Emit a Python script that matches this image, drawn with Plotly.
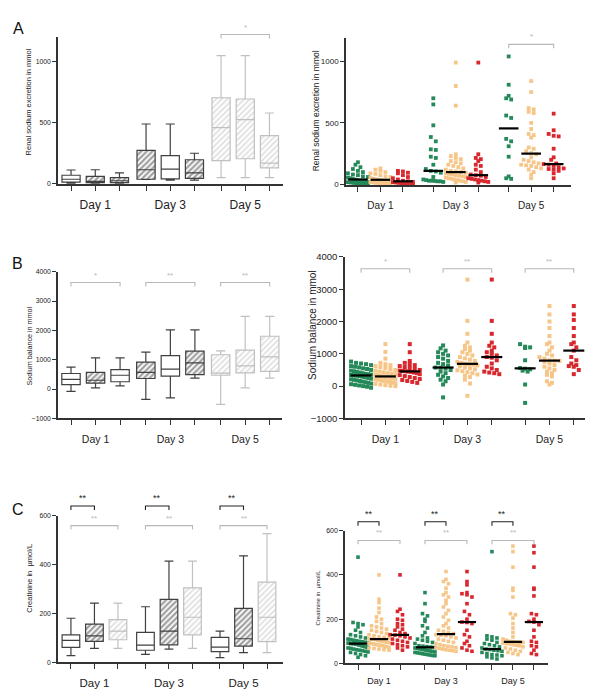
import numpy as np
import plotly.graph_objects as go

days = ["Day 1", "Day 3", "Day 5"]

# ---- Panel A: renal sodium excretion (mmol) ----
# box summaries, order: Day1 g1,g2,g3, Day3 g1,g2,g3, Day5 g1,g2,g3
a_lo = [0, 0, 0, 30, 25, 25, 45, 45, 45]
a_q1 = [8, 5, 5, 32, 35, 40, 185, 200, 125]
a_med = [32, 15, 20, 110, 115, 85, 455, 520, 165]
a_q3 = [65, 55, 45, 268, 225, 192, 700, 690, 390]
a_hi = [108, 110, 85, 485, 485, 245, 1045, 1045, 575]

a_d1_green = [180, 160, 140, 125, 110, 100, 90, 80, 75, 65, 60, 55, 50, 45, 40, 35, 30, 28,
              25, 22, 20, 18, 15, 12, 10, 8, 5, 3, 0]
a_d1_orange = [130, 120, 110, 100, 90, 85, 75, 65, 60, 55, 45, 40, 35, 30, 25, 20, 18, 15,
               12, 10, 8, 5, 3, 0]
a_d1_red = [110, 105, 95, 90, 75, 60, 50, 40, 30, 25, 20, 18, 15, 12, 10, 8, 5, 2, 0]
a_d3_green = [700, 650, 480, 385, 350, 285, 280, 225, 215, 160, 125, 110, 105, 95, 60, 40,
              35, 30, 30, 28, 25, 25, 20]
a_d3_orange = [990, 800, 640, 245, 230, 215, 205, 190, 180, 170, 160, 150, 140, 130, 120, 110,
               105, 100, 95, 90, 85, 80, 75, 70, 65, 60, 55, 50, 45, 40, 35, 30, 25, 20, 15]
a_d3_red = [990, 245, 215, 205, 190, 160, 150, 120, 100, 80, 75, 70, 60, 50, 45, 40, 35, 30, 25, 20, 15]
a_d5_green = [1040, 810, 720, 700, 690, 560, 540, 370, 350, 310, 225, 65, 50, 45]
a_d5_orange = [840, 750, 620, 610, 590, 580, 500, 450, 410, 400, 380, 300, 290, 270, 255, 245,
               220, 200, 190, 180, 170, 160, 155, 150, 140, 130, 120, 100, 80, 50]
a_d5_red = [575, 440, 410, 395, 390, 290, 220, 200, 170, 165, 160, 150, 140, 130, 125, 120, 110, 90, 50]

# ---- Panel B: sodium balance (mmol) ----
b_lo = [-80, 40, 110, -350, -300, 370, -520, 40, 370]
b_q1 = [150, 200, 250, 360, 440, 490, 470, 550, 600]
b_med = [330, 300, 470, 570, 680, 890, 540, 790, 1100]
b_q3 = [530, 570, 660, 920, 1140, 1290, 1170, 1330, 1800]
b_hi = [750, 1060, 1060, 1260, 2020, 2020, 1300, 2480, 2480]

b_d1_green = [760, 720, 700, 680, 650, 620, 600, 580, 550, 530, 500, 480, 460, 440, 420, 400,
              380, 370, 355, 345, 335, 330, 320, 310, 295, 280, 265, 250, 230, 210, 195, 180,
              160, 140, 120, 100, 80, 60, 40, 20, 0, -20, -50]
b_d1_orange = [1300, 1060, 850, 720, 680, 650, 620, 590, 560, 530, 500, 480, 450, 430, 410, 390,
               370, 350, 330, 315, 300, 295, 290, 280, 270, 255, 240, 225, 210, 195, 180, 165,
               150, 130, 110, 90, 70, 50, 30, 10, 0]
b_d1_red = [1300, 1050, 780, 720, 680, 650, 620, 590, 560, 530, 500, 480, 470, 460, 450, 440,
            420, 400, 370, 340, 310, 280, 250, 220, 190, 160, 130, 100]
b_d3_green = [1260, 1170, 1100, 1050, 1000, 950, 900, 850, 780, 720, 680, 640, 575, 570, 540,
              500, 450, 400, 350, 300, 250, 200, 150, 50, -350]
b_d3_orange = [3300, 2020, 1620, 1350, 1250, 1200, 1150, 1100, 1050, 1000, 950, 900, 860, 820,
               780, 750, 720, 690, 670, 660, 640, 610, 580, 550, 520, 490, 460, 430, 400, 360,
               320, 280, 200, 80, -300]
b_d3_red = [3300, 2020, 1620, 1350, 1250, 1200, 1100, 1050, 1000, 950, 900, 880, 800, 700, 600,
            550, 500, 450, 420, 400, 370]
b_d5_green = [1300, 1220, 1200, 1180, 800, 560, 540, 520, 480, 450, 50, -520]
b_d5_orange = [2480, 2220, 2000, 1800, 1550, 1350, 1300, 1200, 1100, 1000, 950, 900, 850, 800,
               790, 780, 750, 700, 650, 600, 550, 500, 450, 400, 350, 300, 150, 100, 50]
b_d5_red = [2480, 2220, 2050, 1800, 1550, 1350, 1300, 1200, 1100, 900, 800, 700, 650, 620, 600, 500, 370]

# ---- Panel C: creatinine (umol/L) ----
c_lo = [28, 58, 58, 33, 55, 58, 20, 40, 40]
c_q1 = [62, 86, 93, 50, 72, 113, 44, 67, 85]
c_med = [90, 109, 128, 71, 128, 185, 63, 97, 185]
c_q3 = [113, 157, 175, 123, 258, 305, 103, 221, 329]
c_hi = [181, 243, 243, 228, 415, 415, 128, 436, 527]

c_d1_green = [480, 185, 180, 175, 165, 150, 140, 130, 125, 120, 115, 110, 108, 105, 102, 100,
              98, 96, 94, 92, 91, 90, 90, 89, 88, 86, 84, 82, 80, 78, 76, 74, 72, 70, 68, 65,
              62, 60, 58, 55, 52, 50, 45, 40, 35, 28]
c_d1_orange = [400, 290, 275, 250, 230, 210, 200, 190, 180, 170, 165, 160, 155, 150, 145, 140,
               135, 130, 125, 120, 118, 115, 112, 110, 110, 108, 105, 102, 100, 98, 96, 94, 92,
               90, 88, 86, 84, 82, 80, 78, 75, 72, 70, 68, 65, 62, 60]
c_d1_red = [400, 245, 235, 220, 200, 195, 180, 175, 165, 155, 150, 140, 135, 130, 128, 125, 120,
            115, 110, 105, 100, 95, 90, 85, 80, 75, 70, 60]
c_d3_green = [320, 270, 225, 215, 200, 190, 170, 160, 140, 125, 115, 110, 105, 100, 95, 90, 80,
              78, 76, 74, 72, 70, 68, 66, 64, 62, 60, 58, 56, 54, 52, 50, 48, 46, 44, 42, 40,
              38, 36, 35]
c_d3_orange = [415, 380, 370, 360, 340, 320, 310, 300, 285, 270, 255, 240, 225, 210, 195, 180,
               170, 160, 150, 145, 140, 135, 130, 128, 125, 120, 115, 110, 105, 100, 95, 90, 85,
               80, 78, 75, 72, 70, 68, 65, 62, 60, 58, 55]
c_d3_red = [415, 370, 355, 320, 315, 310, 300, 270, 235, 220, 200, 187, 185, 180, 150, 130, 120,
            100, 90, 80, 70, 60, 55]
c_d5_green = [505, 125, 120, 115, 110, 105, 95, 90, 85, 80, 75, 70, 65, 63, 60, 58, 55, 50, 45,
              40, 38, 35, 30, 25, 20]
c_d5_orange = [530, 505, 435, 340, 330, 300, 225, 220, 205, 180, 160, 140, 120, 110, 105, 100,
               98, 97, 96, 95, 92, 90, 88, 85, 82, 80, 75, 70, 65, 60, 55, 50, 45, 40]
c_d5_red = [530, 500, 435, 340, 335, 305, 225, 220, 200, 190, 187, 175, 150, 120, 100, 95, 80,
            75, 60, 45, 40]

W, H = 606, 697
FONT = "Liberation Sans, Arial, sans-serif"
AX = "#333333"
GREEN, ORANGE, RED = "#25895a", "#f6c688", "#d8272d"
DARK, LIGHT, BR_GREY = "#404040", "#c0c0c0", "#b8b8b8"

# layout of the six panels (pixel boxes)
specs = {
    1: dict(xpx=(58, 283), ypx=(31, 181), yr=(-8, 1202), gap=3.1, xr=(-0.54, 8.76),
            yt=[0, 500, 1000], tfs=6.8, dfs=12, so=4),
    2: dict(xpx=(346, 571), ypx=(33, 182), yr=(-6, 1186), gap=3.35, xr=(-0.53, 9.47),
            yt=[0, 500, 1000], tfs=8, dfs=10, so=5),
    3: dict(xpx=(58, 282), ypx=(270, 419), yr=(-1000, 4000), gap=3.05, xr=(-0.53, 8.6),
            yt=[-1000, 0, 1000, 2000, 3000, 4000], tfs=6.8, dfs=10.5, so=5),
    4: dict(xpx=(345, 585), ypx=(255, 419), yr=(-1000, 4000), gap=3.37, xr=(-0.66, 9.2),
            yt=[-1000, 0, 1000, 2000, 3000, 4000], tfs=9.5, dfs=10.5, so=5),
    5: dict(xpx=(58, 283), ypx=(518, 667), yr=(0, 600), gap=3.17, xr=(-0.55, 9.02),
            yt=[0, 200, 400, 600], tfs=6.8, dfs=11.5, so=4),
    6: dict(xpx=(345, 548), ypx=(533, 668), yr=(0, 600), gap=3.19, xr=(-0.62, 9.05),
            yt=[0, 200, 400, 600], tfs=7, dfs=9, so=3),
}


def positions(n):
    g = specs[n]["gap"]
    return [d * g + i for d in range(3) for i in range(3)]


def px_per_unit(n):
    s = specs[n]
    fx = (s["xpx"][1] - s["xpx"][0]) / (s["xr"][1] - s["xr"][0])
    fy = (s["ypx"][1] - s["ypx"][0]) / (s["yr"][1] - s["yr"][0])
    return fx, fy


def swarm(vals, center, n, row_px=4.6, step_px=5.0, half_px=10.0):
    # simple bin-and-spread beeswarm
    fx, fy = px_per_unit(n)
    v = np.asarray(vals, float)
    bins = np.round(v / (row_px / fy)).astype(int)
    xs = np.empty(len(v))
    for b in np.unique(bins):
        idx = np.where(bins == b)[0]
        k = len(idx)
        step = step_px if k <= 1 else min(step_px, 2 * half_px / (k - 1))
        xs[idx] = center + (np.arange(k) - (k - 1) / 2) * step / fx
    return xs


fig = go.Figure()


def ax_ids(n):
    return ("x" if n == 1 else f"x{n}"), ("y" if n == 1 else f"y{n}")


def box_panel(n, lo, q1, med, q3, hi, styles):
    xa, ya = ax_ids(n)
    pos = positions(n)
    for i in range(9):
        st = styles[i]
        col = LIGHT if st == "light" else DARK
        if st != "plain":
            fig.add_trace(go.Bar(
                x=[pos[i]], y=[q3[i] - q1[i]], base=[q1[i]], width=0.75,
                marker=dict(color="white", line=dict(width=0),
                            pattern=dict(shape="/", fgcolor=col, bgcolor="white",
                                         size=4, solidity=0.55 if st == "dark" else 0.45)),
                xaxis=xa, yaxis=ya, showlegend=False, hoverinfo="skip"))
        fig.add_trace(go.Box(
            x=[pos[i]], q1=[q1[i]], median=[med[i]], q3=[q3[i]],
            lowerfence=[lo[i]], upperfence=[hi[i]], width=0.75, whiskerwidth=0.5,
            line=dict(color=col, width=1.2), fillcolor="rgba(0,0,0,0)",
            boxpoints=False, xaxis=xa, yaxis=ya, showlegend=False))


def dot_panel(n, groups, msize=3.8, mline=14):
    xa, ya = ax_ids(n)
    pos = positions(n)
    cols = [GREEN, ORANGE, RED] * 3
    for i, vals in enumerate(groups):
        fig.add_trace(go.Scatter(
            x=swarm(vals, pos[i], n), y=vals, mode="markers",
            marker=dict(symbol="square", size=msize, color=cols[i], line=dict(width=0)),
            cliponaxis=False, xaxis=xa, yaxis=ya, showlegend=False))
    fig.add_trace(go.Scatter(
        x=pos, y=[float(np.median(g)) for g in groups], mode="markers",
        marker=dict(symbol="line-ew", size=mline, line=dict(color="black", width=2.2)),
        cliponaxis=False, xaxis=xa, yaxis=ya, showlegend=False))


box_panel(1, a_lo, a_q1, a_med, a_q3, a_hi,
          ["plain", "dark", "dark", "dark", "plain", "dark", "light", "light", "light"])
dot_panel(2, [a_d1_green, a_d1_orange, a_d1_red, a_d3_green, a_d3_orange, a_d3_red,
              a_d5_green, a_d5_orange, a_d5_red])
box_panel(3, b_lo, b_q1, b_med, b_q3, b_hi,
          ["plain", "dark", "plain", "dark", "plain", "dark", "light", "light", "light"])
dot_panel(4, [b_d1_green, b_d1_orange, b_d1_red, b_d3_green, b_d3_orange, b_d3_red,
              b_d5_green, b_d5_orange, b_d5_red], msize=4, mline=15)
box_panel(5, c_lo, c_q1, c_med, c_q3, c_hi, ["plain", "dark", "light"] * 3)
dot_panel(6, [c_d1_green, c_d1_orange, c_d1_red, c_d3_green, c_d3_orange, c_d3_red,
              c_d5_green, c_d5_orange, c_d5_red], msize=3.6, mline=13)

layout_axes = {}
for n, s in specs.items():
    xk = "xaxis" if n == 1 else f"xaxis{n}"
    yk = "yaxis" if n == 1 else f"yaxis{n}"
    xa, ya = ax_ids(n)
    layout_axes[xk] = dict(
        domain=[s["xpx"][0] / W, s["xpx"][1] / W], range=list(s["xr"]), anchor=ya,
        tickvals=positions(n), ticktext=["", days[0], "", "", days[1], "", "", days[2], ""],
        ticks="outside", ticklen=5, tickwidth=1.2, tickcolor=AX, showline=True,
        linecolor=AX, linewidth=1.5, showgrid=False, zeroline=False,
        tickfont=dict(size=s["dfs"], color="#222"), ticklabelstandoff=s["so"], fixedrange=True)
    layout_axes[yk] = dict(
        domain=[1 - s["ypx"][1] / H, 1 - s["ypx"][0] / H], range=list(s["yr"]), anchor=xa,
        tickvals=s["yt"], ticks="outside", ticklen=4, tickwidth=1.2, tickcolor=AX,
        showline=True, linecolor=AX, linewidth=1.5, showgrid=False, zeroline=False,
        tickfont=dict(size=s["tfs"], color="#222"), fixedrange=True)

annotations = []
shapes = []


def py(v):
    return 1 - v / H


# panel letters
for lab, x, y in [("A", 18, 23), ("B", 17, 262), ("C", 18, 512)]:
    annotations.append(dict(text=lab, x=x / W, y=py(y), xref="paper", yref="paper",
                            xanchor="center", yanchor="middle", showarrow=False,
                            font=dict(size=16, color="#111")))

# y axis titles
for txt, x, y, fs in [("Renal sodium excretion in mmol", 28, 98, 7.5),
                      ("Renal sodium excretion in mmol", 316, 107, 8.5),
                      ("Sodium balance in mmol", 30, 346, 7.2),
                      ("Sodium balance in mmol", 313, 324, 10),
                      ("Creatinine in  \u00b5mol/L", 30, 582, 7.5),
                      ("Creatinine in  \u00b5mol/L", 318, 601, 6)]:
    annotations.append(dict(text=txt, x=x / W, y=py(y), xref="paper", yref="paper",
                            xanchor="center", yanchor="middle", textangle=-90,
                            showarrow=False, font=dict(size=fs, color="#222")))

# significance brackets: panel, day, from, to, line y px, text, colour
brackets = [
    (1, 2, 0, 2, 29, "*", BR_GREY),
    (2, 2, 0, 2, 39, "*", BR_GREY),
    (3, 0, 0, 2, 281, "*", BR_GREY), (3, 1, 0, 2, 281, "**", BR_GREY), (3, 2, 0, 2, 281, "**", BR_GREY),
    (4, 0, 0, 2, 267, "*", BR_GREY), (4, 1, 0, 2, 267, "**", BR_GREY), (4, 2, 0, 2, 267, "**", BR_GREY),
]
for d in range(3):
    brackets.append((5, d, 0, 1, 508, "**", "#222"))
    brackets.append((5, d, 0, 2, 528, "**", BR_GREY))
    brackets.append((6, d, 0, 1, 524, "**", "#222"))
    brackets.append((6, d, 0, 2, 543, "**", BR_GREY))

for n, d, a, b, ypx, txt, col in brackets:
    xa, _ = ax_ids(n)
    p = positions(n)
    x0, x1 = p[d * 3 + a], p[d * 3 + b]
    shapes.append(dict(type="path", xref=xa, yref="paper",
                       path=f"M {x0},{py(ypx + 4)} L {x0},{py(ypx)} L {x1},{py(ypx)} L {x1},{py(ypx + 4)}",
                       line=dict(color=col, width=1.1)))
    annotations.append(dict(text=txt, x=(x0 + x1) / 2, y=py(ypx - 1), xref=xa, yref="paper",
                            xanchor="center", yanchor="bottom", showarrow=False,
                            font=dict(size=9 if col != BR_GREY else 8, color=col)))

fig.update_layout(
    width=W, height=H, margin=dict(l=0, r=0, t=0, b=0),
    paper_bgcolor="white", plot_bgcolor="white",
    font=dict(family=FONT, color="#222"),
    barmode="overlay", boxmode="overlay", showlegend=False,
    annotations=annotations, shapes=shapes, **layout_axes)

fig.write_html("out.html", config={"displayModeBar": False},
               post_script="document.body.style.margin='0';")
